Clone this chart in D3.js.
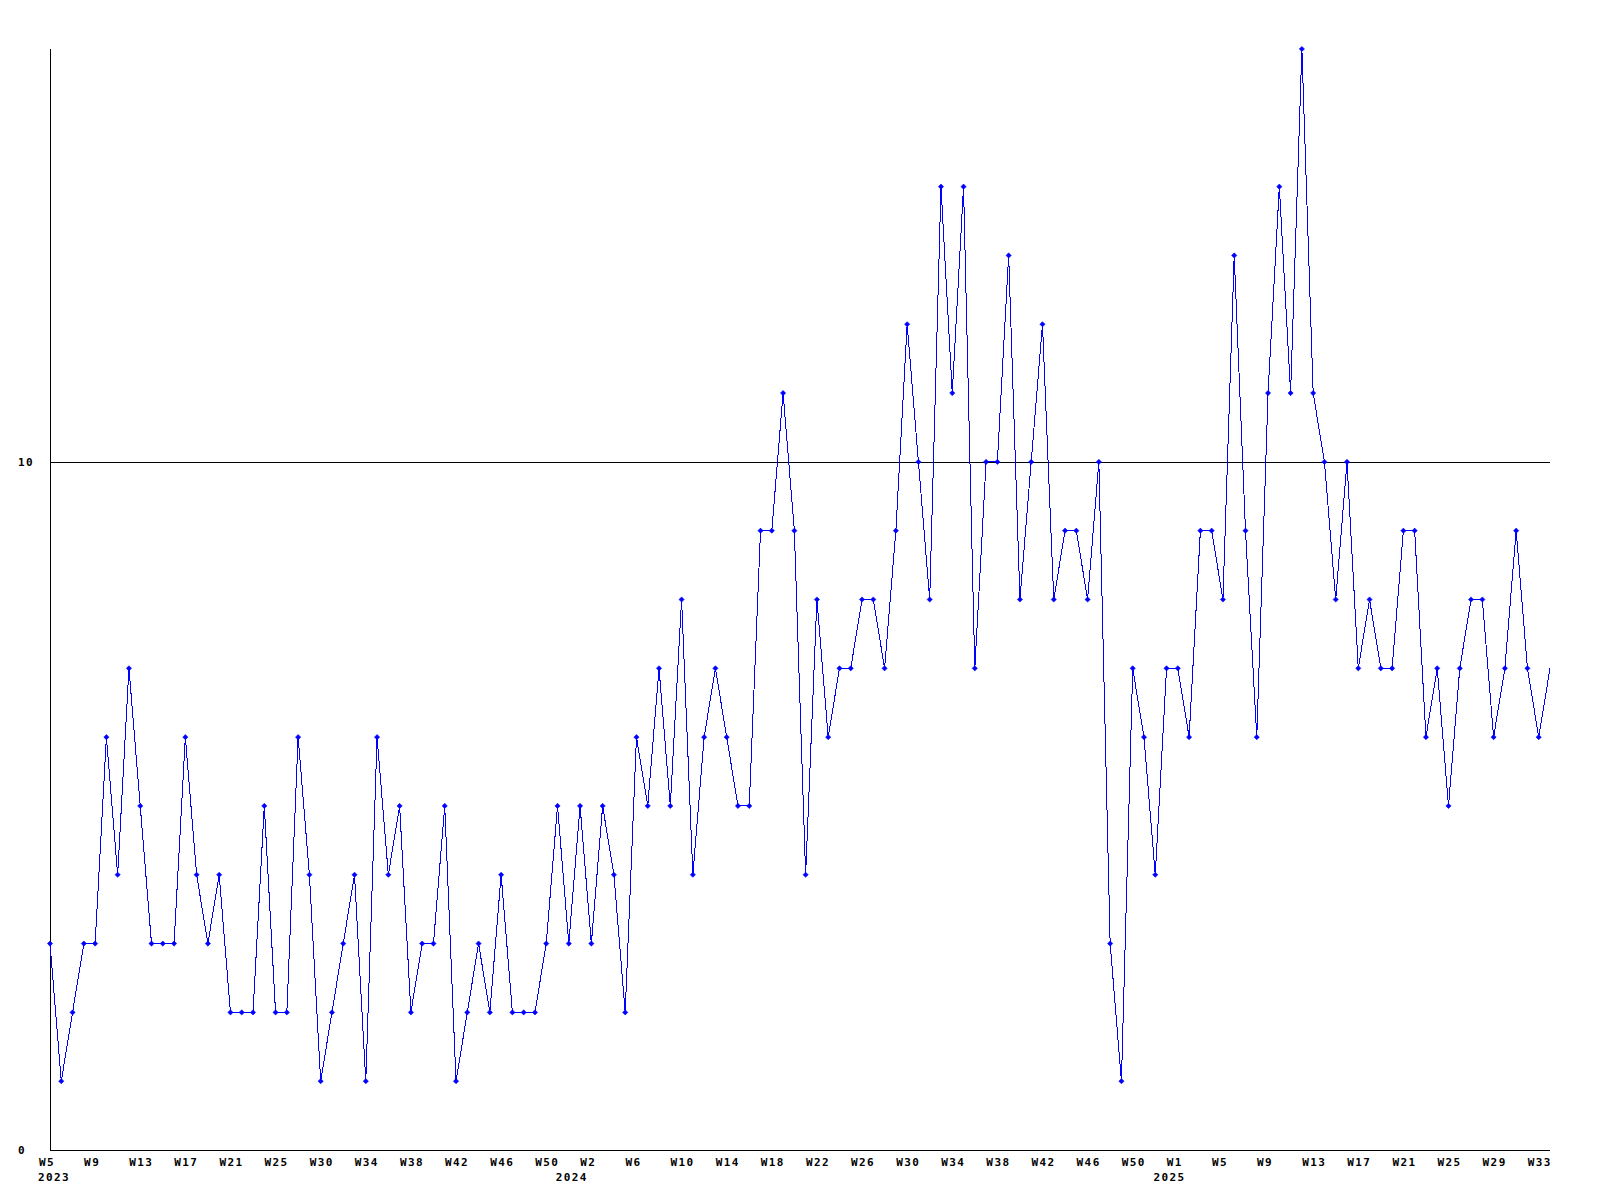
<!DOCTYPE html>
<html>
<head>
<meta charset="utf-8">
<script src="https://cdn.jsdelivr.net/npm/d3@7"></script>
<style>
  html, body { margin: 0; padding: 0; background: #ffffff; }
  svg { display: block; }
  text { font-family: "DejaVu Sans Mono", "Liberation Mono", monospace; font-weight: bold; font-size: 11px; letter-spacing: 1.4px; fill: #000; }
</style>
</head>
<body>
<svg id="chart" width="1600" height="1200"></svg>
<script>
// ---- data (weekly counts, 2023 W5 .. 2025 W34) ----
const values = [
  3,1,2,3,3,6,4,7,5,3,
  3,3,6,4,3,4,2,2,2,5,
  2,2,6,4,1,2,3,4,1,6,
  4,5,2,3,3,5,1,2,3,2,
  4,2,2,2,3,5,3,5,3,5,
  4,2,6,5,7,5,8,4,6,7,
  6,5,5,9,9,11,9,4,8,6,
  7,7,8,8,7,9,12,10,8,14,
  11,14,7,10,10,13,8,10,12,8,
  9,9,8,10,3,1,7,6,4,7,
  7,6,9,9,8,13,9,6,11,14,
  11,16,11,10,8,10,7,8,7,7,
  9,9,6,7,5,7,8,8,6,7,
  9,7,6,7
];
const weekTickLabels = ["W5","W9","W13","W17","W21","W25","W30","W34","W38","W42","W46","W50",
  "W2","W6","W10","W14","W18","W22","W26","W30","W34","W38","W42","W46","W50",
  "W1","W5","W9","W13","W17","W21","W25","W29","W33"];
const weekTickStep = 4;
const yearLabels = ["2023","2024","2025"];
const yearLabelIndex = [0, 45.9, 98.9];
const yTickValues = [0, 10];
const yMax = 16;

(function () {
  // ---- layout ----
  const mLeft = 50, mRight = 1550, mTop = 49, mBottom = 1150;
  const svg = d3.select("#chart");

  const x = d3.scaleLinear().domain([0, values.length - 1]).range([mLeft, mRight]);
  const y = d3.scaleLinear().domain([0, yMax]).range([mBottom, mTop]);

  // horizontal reference line (value 10)
  svg.append("g").selectAll("line")
    .data(yTickValues.filter(v => v > 0))
    .join("line")
    .attr("x1", mLeft).attr("x2", mRight)
    .attr("y1", d => Math.round(y(d)) + 0.5).attr("y2", d => Math.round(y(d)) + 0.5)
    .attr("stroke", "#000").attr("stroke-width", 1)
    .attr("shape-rendering", "crispEdges");

  // axes lines
  svg.append("line").attr("x1", mLeft + 0.5).attr("x2", mLeft + 0.5).attr("y1", mTop).attr("y2", mBottom)
    .attr("stroke", "#000").attr("shape-rendering", "crispEdges");
  svg.append("line").attr("x1", mLeft).attr("x2", mRight).attr("y1", mBottom + 0.5).attr("y2", mBottom + 0.5)
    .attr("stroke", "#000").attr("shape-rendering", "crispEdges");

  // y labels
  svg.append("g").selectAll("text")
    .data(yTickValues)
    .join("text")
    .attr("x", 18)
    .attr("y", d => y(d) + 4)
    .attr("text-anchor", "start")
    .text(d => d);

  // x week labels
  svg.append("g").selectAll("text")
    .data(weekTickLabels)
    .join("text")
    .attr("x", (d, i) => x(i * weekTickStep) - 11)
    .attr("y", mBottom + 16)
    .attr("text-anchor", "start")
    .text(d => d);

  // year labels
  svg.append("g").selectAll("text")
    .data(yearLabels)
    .join("text")
    .attr("x", (d, i) => x(yearLabelIndex[i]) - 12)
    .attr("y", mBottom + 31)
    .attr("text-anchor", "start")
    .text(d => d);

  // line
  const line = d3.line().x((d, i) => x(i)).y(d => y(d));
  svg.append("path")
    .datum(values)
    .attr("d", line)
    .attr("fill", "none")
    .attr("stroke", "#0000ff")
    .attr("stroke-width", 1)
    .attr("shape-rendering", "crispEdges");

  // markers (small diamonds)
  const s = 2.6;
  svg.append("g").selectAll("path")
    .data(values.slice(0, -1))
    .join("path")
    .attr("transform", (d, i) => `translate(${x(i)},${y(d)})`)
    .attr("d", `M0,${-s}L${s},0L0,${s}L${-s},0Z`)
    .attr("fill", "#0000ff")
    .attr("stroke", "#0000ff")
    .attr("stroke-width", 0.6);
})();
</script>
</body>
</html>
